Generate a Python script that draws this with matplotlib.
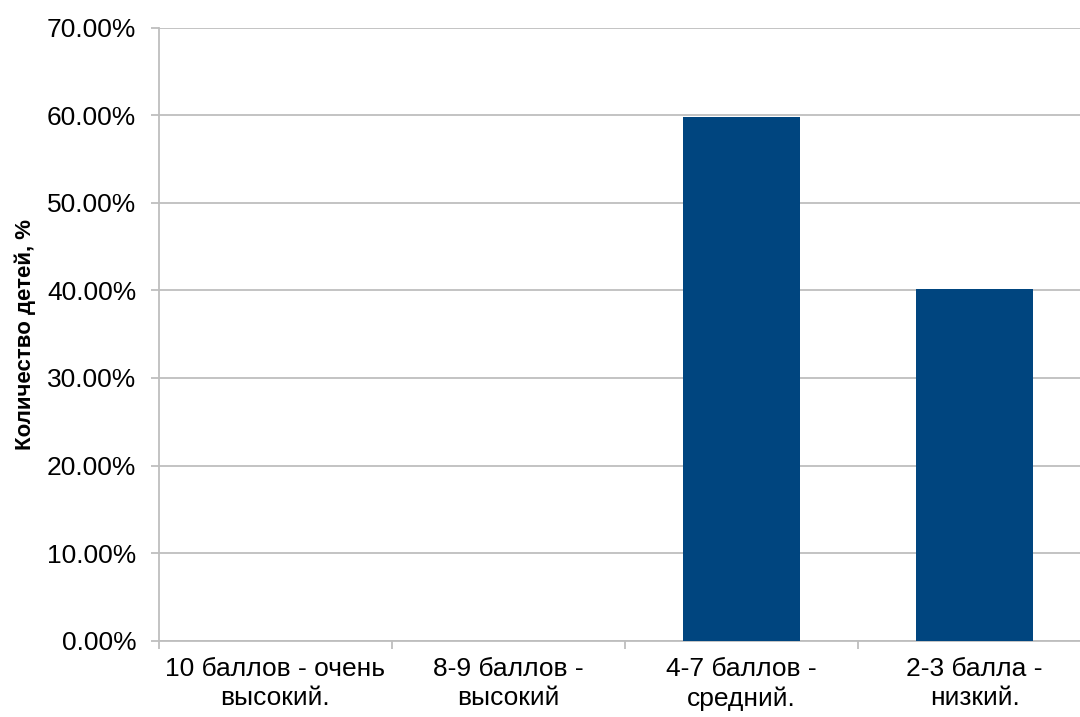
import numpy as np
import matplotlib.pyplot as plt
from matplotlib.ticker import FuncFormatter

plt.rcParams["font.family"] = ["Liberation Sans", "DejaVu Sans"]

# данные
categories = ["10 баллов - очень\nвысокий.", "8-9 баллов -\nвысокий",
              "4-7 баллов -\nсредний.", "2-3 балла -\nнизкий."]
values = [0.0, 0.0, 59.8, 40.2]
yticks = [0, 10, 20, 30, 40, 50, 60, 70]

bar_color = '#00457F'
grid_color = '#BEBEBE'

fig = plt.figure(figsize=(10.8, 7.17), dpi=100)
ax = fig.add_axes([0.1468, 0.1064, 0.8637, 0.8552])

x = np.arange(len(categories))
ax.bar(x, values, width=0.5, color=bar_color, zorder=3)

ax.set_xlim(-0.5, len(categories) - 0.5)
ax.set_ylim(0, 70)
ax.set_yticks(yticks)
ax.yaxis.set_major_formatter(FuncFormatter(lambda v, p: f"{v:.2f}%"))
ax.set_xticks(x)
ax.set_xticklabels(categories, fontsize=19, linespacing=1.25)
ax.set_xticks(np.arange(-0.5, len(categories)), minor=True)

ax.grid(axis='y', color=grid_color, linewidth=1.3, zorder=0)
ax.tick_params(axis='y', labelsize=19, length=6, color=grid_color, width=1.3, pad=10)
ax.tick_params(axis='x', which='major', length=0, pad=12)
ax.tick_params(axis='x', which='minor', length=6, color=grid_color, width=1.3)

for s in ['top', 'right']:
    ax.spines[s].set_visible(False)
for s in ['left', 'bottom']:
    ax.spines[s].set_color(grid_color)
    ax.spines[s].set_linewidth(1.3)

ax.set_ylabel('Количество детей, %', fontsize=16, fontweight='bold', labelpad=8)

fig.savefig('out.png', dpi=100)
